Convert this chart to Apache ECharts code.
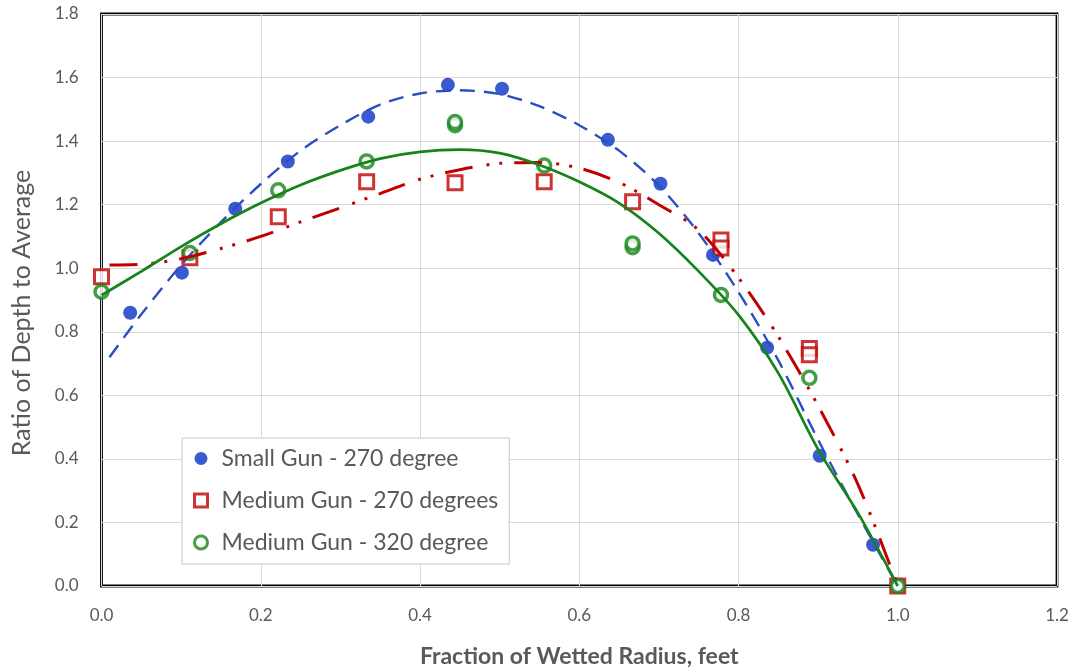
<!DOCTYPE html>
<html>
<head>
<meta charset="utf-8">
<script src="https://cdn.jsdelivr.net/npm/echarts@6/dist/echarts.min.js"></script>
<style>
html,body{margin:0;padding:0;background:#fff;}
#chart{width:1074px;height:667px;}
</style>
</head>
<body>
<div id="chart"></div>
<script>
// ---- Data ----
const seriesNames = ['Small Gun - 270 degree', 'Medium Gun - 270 degrees', 'Medium Gun - 320 degree'];

const smallGunX = [0.036, 0.101, 0.168, 0.234, 0.335, 0.435, 0.503, 0.636, 0.702, 0.768, 0.836, 0.902, 0.969, 1.0];
const smallGunY = [0.86, 0.986, 1.187, 1.336, 1.477, 1.577, 1.565, 1.404, 1.266, 1.042, 0.75, 0.41, 0.13, 0.0];

const medium270X = [0.0, 0.111, 0.222, 0.333, 0.444, 0.556, 0.667, 0.778, 0.778, 0.889, 0.889, 1.0];
const medium270Y = [0.973, 1.033, 1.162, 1.272, 1.269, 1.272, 1.209, 1.089, 1.064, 0.747, 0.728, 0.0];

const medium320X = [0.0, 0.111, 0.222, 0.333, 0.444, 0.444, 0.556, 0.667, 0.667, 0.778, 0.889, 1.0];
const medium320Y = [0.926, 1.048, 1.245, 1.336, 1.45, 1.46, 1.323, 1.066, 1.078, 0.916, 0.655, 0.0];

// Trendlines
const smallTrendX = [0.01, 0.05, 0.1, 0.15, 0.2, 0.25, 0.3, 0.35, 0.4, 0.45, 0.5, 0.55, 0.6, 0.65, 0.7, 0.75, 0.8, 0.85, 0.9, 0.95, 1.0];
const smallTrendY = [0.72, 0.855, 1.01, 1.145, 1.265, 1.37, 1.45, 1.515, 1.55, 1.56, 1.548, 1.51, 1.45, 1.37, 1.26, 1.11, 0.925, 0.71, 0.46, 0.225, 0.0];

const m270TrendX = [0.01, 0.05, 0.1, 0.15, 0.2, 0.25, 0.3, 0.35, 0.4, 0.45, 0.5, 0.55, 0.6, 0.65, 0.7, 0.75, 0.8, 0.85, 0.9, 0.95, 1.0];
const m270TrendY = [1.01, 1.012, 1.03, 1.062, 1.10, 1.146, 1.19, 1.235, 1.28, 1.31, 1.33, 1.333, 1.315, 1.27, 1.20, 1.12, 0.97, 0.785, 0.567, 0.32, 0.0];

const m320TrendX = [0.0, 0.05, 0.1, 0.15, 0.2, 0.25, 0.3, 0.35, 0.4, 0.45, 0.5, 0.55, 0.6, 0.65, 0.7, 0.75, 0.8, 0.85, 0.9, 0.95, 1.0];
const m320TrendY = [0.915, 0.99, 1.068, 1.14, 1.205, 1.262, 1.308, 1.345, 1.366, 1.373, 1.362, 1.325, 1.272, 1.205, 1.11, 0.99, 0.853, 0.67, 0.43, 0.23, 0.0];

const xTicks = [0.0, 0.2, 0.4, 0.6, 0.8, 1.0, 1.2];
const yTicks = [0.0, 0.2, 0.4, 0.6, 0.8, 1.0, 1.2, 1.4, 1.6, 1.8];

const xTitle = 'Fraction of Wetted Radius, feet';
const yTitle = 'Ratio of Depth to Average';

// ---- Build ----
const zip = (xs, ys) => xs.map((x, i) => [x, ys[i]]);
const FONT = 'Lato, "Open Sans", sans-serif';
const GREY = '#595959';
const BLUE = '#0731c6', RED = '#c00000', GREEN = '#16841a';

const chart = echarts.init(document.getElementById('chart'), null, {renderer: 'canvas'});

chart.setOption({
  animation: false,
  backgroundColor: '#fff',
  textStyle: {fontFamily: FONT},
  grid: {
    left: 101.5, right: 17, top: 14, bottom: 81,
    outerBoundsMode: 'none', containLabel: false,
    show: true, borderColor: '#000', borderWidth: 2.8, backgroundColor: 'transparent'
  },
  xAxis: {
    type: 'value',
    min: xTicks[0], max: xTicks[xTicks.length - 1], interval: 0.2,
    axisLine: {show: false}, axisTick: {show: false},
    splitLine: {show: true, lineStyle: {color: '#d9d9d9', width: 1}},
    axisLabel: {color: GREY, fontSize: 17, margin: 21, formatter: v => v.toFixed(1), fontFamily: FONT},
    name: xTitle, nameLocation: 'middle', nameGap: 59,
    nameTextStyle: {color: GREY, fontSize: 23, fontWeight: 'bold', fontFamily: FONT}
  },
  yAxis: {
    type: 'value',
    min: yTicks[0], max: yTicks[yTicks.length - 1], interval: 0.2,
    axisLine: {show: false}, axisTick: {show: false},
    splitLine: {show: true, lineStyle: {color: '#d9d9d9', width: 1}},
    axisLabel: {color: GREY, fontSize: 17, margin: 23, formatter: v => v.toFixed(1), fontFamily: FONT},
    name: yTitle, nameLocation: 'middle', nameGap: 67, nameRotate: 90,
    nameTextStyle: {color: GREY, fontSize: 25, fontFamily: FONT, padding: [0, 26, 0, 0]}
  },
  legend: {
    data: [
      {name: seriesNames[0], itemStyle: {color: BLUE}},
      {name: seriesNames[1], itemStyle: {color: '#fff', borderColor: RED, borderWidth: 3}},
      {name: seriesNames[2], itemStyle: {color: '#fff', borderColor: GREEN, borderWidth: 3}}
    ],
    orient: 'vertical',
    left: 182, top: 438,
    itemWidth: 13, itemHeight: 13, itemGap: 19,
    padding: [9, 11, 10, 11],
    backgroundColor: '#fff',
    borderColor: '#c8c8c8', borderWidth: 1, borderRadius: 0,
    textStyle: {color: GREY, fontSize: 23, fontFamily: FONT, padding: [0, 0, 0, 9]},
    selectedMode: false
  },
  series: [
    {
      name: seriesNames[0], type: 'scatter', z: 2,
      data: zip(smallGunX, smallGunY),
      symbol: 'circle', symbolSize: 14,
      itemStyle: {color: BLUE}
    },
    {
      name: seriesNames[1], type: 'scatter', z: 3,
      data: zip(medium270X, medium270Y),
      symbol: 'rect', symbolSize: 14,
      itemStyle: {color: '#fff', borderColor: RED, borderWidth: 3}
    },
    {
      name: seriesNames[2], type: 'scatter', z: 4,
      data: zip(medium320X, medium320Y),
      symbol: 'circle', symbolSize: 13,
      itemStyle: {color: '#fff', borderColor: GREEN, borderWidth: 3.5}
    },
    {
      name: 'Small trend', type: 'line', z: 5, smooth: 0.3, showSymbol: false, symbol: 'none',
      data: zip(smallTrendX, smallTrendY),
      lineStyle: {color: '#2a4fc0', width: 2.4, type: [15, 9]}
    },
    {
      name: 'Medium 270 trend', type: 'line', z: 5, smooth: 0.3, showSymbol: false, symbol: 'none',
      data: zip(m270TrendX, m270TrendY),
      lineStyle: {color: RED, width: 3, type: [28, 14, 3, 10, 3, 12]}
    },
    {
      name: 'Medium 320 trend', type: 'line', z: 5, smooth: 0.3, showSymbol: false, symbol: 'none',
      data: zip(m320TrendX, m320TrendY),
      lineStyle: {color: GREEN, width: 2.7, type: 'solid'}
    }
  ]
});
</script>
</body>
</html>
